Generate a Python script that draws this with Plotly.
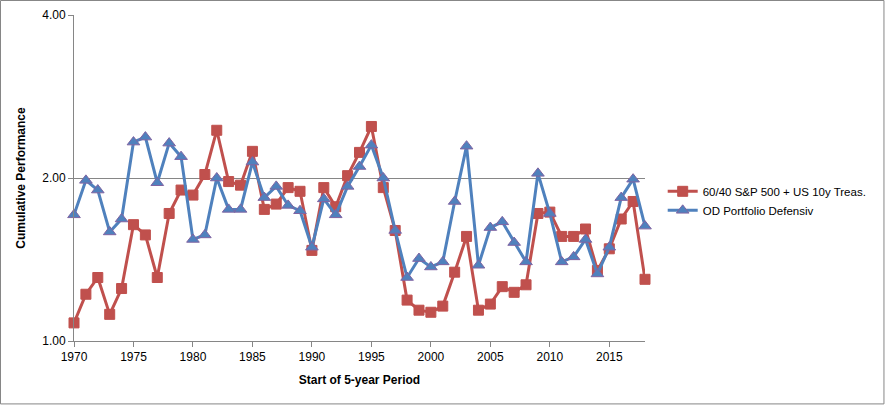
import plotly.graph_objects as go

years = list(range(1970, 2019))

sp_60_40 = [1.08, 1.22, 1.31, 1.12, 1.25, 1.64, 1.57, 1.31, 1.72, 1.90,
            1.86, 2.03, 2.45, 1.97, 1.94, 2.24, 1.75, 1.79, 1.92, 1.89,
            1.47, 1.92, 1.77, 2.02, 2.23, 2.49, 1.92, 1.60, 1.19, 1.14,
            1.13, 1.16, 1.34, 1.56, 1.14, 1.17, 1.26, 1.23, 1.27, 1.72,
            1.73, 1.56, 1.56, 1.61, 1.35, 1.48, 1.68, 1.81, 1.30]

od_defensiv = [1.71, 1.98, 1.90, 1.59, 1.68, 2.33, 2.38, 1.96, 2.32, 2.19,
               1.54, 1.57, 2.00, 1.75, 1.75, 2.14, 1.84, 1.93, 1.78, 1.74,
               1.49, 1.83, 1.71, 1.93, 2.10, 2.30, 2.00, 1.60, 1.31, 1.42,
               1.37, 1.40, 1.81, 2.29, 1.38, 1.62, 1.66, 1.52, 1.40, 2.04,
               1.72, 1.40, 1.43, 1.54, 1.33, 1.49, 1.84, 1.99, 1.63]

x_ticks = [1970, 1975, 1980, 1985, 1990, 1995, 2000, 2005, 2010, 2015]
y_ticks = [1, 2, 4]
y_tick_labels = ["1.00", "2.00", "4.00"]

series_names = ["60/40 S&P 500 + US 10y Treas.", "OD Portfolio Defensiv"]

fig = go.Figure()
fig.add_trace(go.Scatter(
    x=years, y=sp_60_40, name=series_names[0], mode="lines+markers",
    cliponaxis=False,
    line=dict(color="#C0504D", width=3),
    marker=dict(symbol="square", size=10, color="#C0504D",
                line=dict(color="#C0504D", width=1)),
))
fig.add_trace(go.Scatter(
    x=years, y=od_defensiv, name=series_names[1], mode="lines+markers",
    cliponaxis=False,
    line=dict(color="#4F81BD", width=3),
    marker=dict(symbol="triangle-up", size=11, color="#4F81BD",
                line=dict(color="#8064A2", width=1)),
))

font_family = "Liberation Sans"
fig.update_layout(
    width=886, height=406,
    margin=dict(l=74, r=241, t=15, b=65, autoexpand=False),
    paper_bgcolor="white", plot_bgcolor="white",
    font=dict(family=font_family, size=12, color="black"),
    showlegend=True,
    legend=dict(x=1.031, y=0.43, xanchor="left", yanchor="middle",
                font=dict(size=11.5), tracegroupgap=8,
                bgcolor="rgba(0,0,0,0)"),
    xaxis=dict(
        range=[1970, 2018], tickvals=x_ticks, ticks="outside", ticklen=5,
        tickcolor="#868686", showline=True, linecolor="#868686", linewidth=1,
        showgrid=False, zeroline=False,
        title=dict(text="<b>Start of 5-year Period</b>", standoff=12,
                   font=dict(size=12)),
    ),
    yaxis=dict(
        type="log", range=[0, 0.60206], tickvals=y_ticks, ticktext=y_tick_labels,
        ticks="outside", ticklen=5, tickcolor="#868686",
        showline=True, linecolor="#868686", linewidth=1,
        showgrid=True, gridcolor="#868686", gridwidth=1, zeroline=False,
        title=dict(text="<b>Cumulative Performance</b>", standoff=14,
                   font=dict(size=12)),
    ),
    shapes=[dict(type="rect", xref="paper", yref="paper",
                 x0=-0.1287, x1=1.4185, y0=-0.193, y1=1.0445,
                 line=dict(color="#868686", width=1), layer="below")],
)

fig.write_html("out.html", config={"displayModeBar": False},
               post_script="document.body.style.margin='0';")
